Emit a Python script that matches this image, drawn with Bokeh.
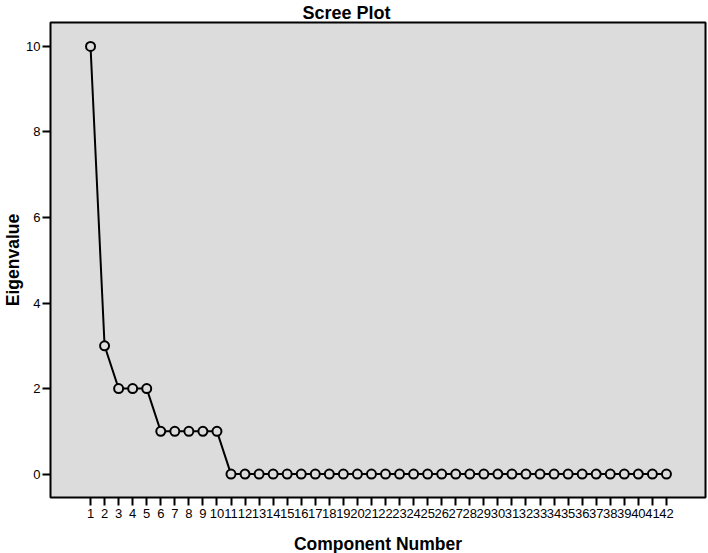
from bokeh.plotting import figure
from bokeh.models import FixedTicker, ColumnDataSource
from bokeh.embed import file_html
from bokeh.resources import INLINE

components = list(range(1, 43))
eigenvalues = [10, 3, 2, 2, 2, 1, 1, 1, 1, 1,
               0, 0, 0, 0, 0, 0, 0, 0, 0, 0,
               0, 0, 0, 0, 0, 0, 0, 0, 0, 0,
               0, 0, 0, 0, 0, 0, 0, 0, 0, 0,
               0, 0]
y_ticks = [0, 2, 4, 6, 8, 10]

src = ColumnDataSource(data=dict(x=components, y=eigenvalues))

p = figure(frame_width=655, frame_height=475,
           x_range=(-1.85, 44.78), y_range=(-0.547, 10.56),
           output_backend="svg", toolbar_location=None,
           title="Scree Plot",
           min_border_left=0, min_border_right=3, min_border_top=15, min_border_bottom=0)

p.background_fill_color = "#dcdcdc"
p.border_fill_color = "white"
p.outline_line_color = "black"
p.outline_line_width = 2
p.xgrid.visible = False
p.ygrid.visible = False

p.title.text_font = "Liberation Sans"
p.title.text_font_size = "18px"
p.title.text_font_style = "bold"
p.title.align = "left"
p.title.offset = 252
p.title.standoff = 0
p.title.text_color = "black"

for ax in (p.xaxis[0], p.yaxis[0]):
    ax.axis_line_color = None
    ax.major_tick_line_color = "black"
    ax.major_tick_line_width = 2
    ax.major_tick_out = 8
    ax.major_tick_in = 0
    ax.minor_tick_line_color = None
    ax.major_label_text_font = "Liberation Sans"
    ax.major_label_text_font_size = "13px"
    ax.major_label_text_color = "black"
    ax.axis_label_text_font = "Liberation Sans"
    ax.axis_label_text_font_size = "17.5px"
    ax.axis_label_text_font_style = "bold"
    ax.axis_label_text_color = "black"

p.xaxis.ticker = FixedTicker(ticks=components)
p.yaxis.ticker = FixedTicker(ticks=y_ticks)
p.xaxis.axis_label = "Component Number"
p.yaxis.axis_label = "Eigenvalue"
p.xaxis.major_label_standoff = 3
p.xaxis.axis_label_standoff = 13
p.yaxis.major_label_standoff = 2
p.yaxis.axis_label_standoff = 0

p.line("x", "y", source=src, line_color="black", line_width=2)
p.scatter("x", "y", source=src, size=9, marker="circle",
          line_color="black", line_width=2, fill_color="#dcdcdc")

open("out.html", "w").write(file_html(p, INLINE))
